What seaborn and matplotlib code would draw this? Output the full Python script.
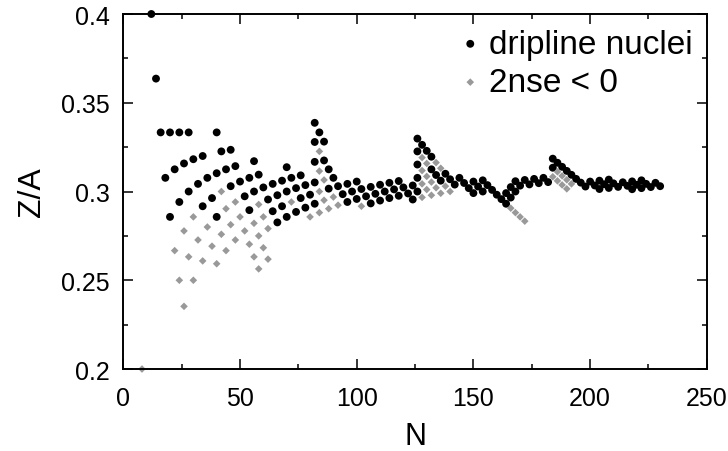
import pandas as pd
import matplotlib
matplotlib.use('Agg')
import matplotlib.pyplot as plt
import seaborn as sns
from matplotlib.ticker import MultipleLocator, FuncFormatter

# dripline nuclei (black dots): neutron number N and Z/A
black_n = [
    12, 14, 16, 18, 20,
    20, 22, 24,
    24, 26, 28,
    28, 30, 32, 34,
    34, 36, 38, 40,
    40,
    40, 42, 44, 46,
    46, 48, 50, 52, 54,
    54, 56,
    56, 58, 60, 62, 64, 66,
    64, 66, 68, 70,
    68, 70, 74,
    70, 72, 74, 76, 78,
    76, 78, 80, 82,
    82,
    82, 88,
    82, 86, 88, 90, 92, 94, 96,
    82, 84, 86, 96, 98, 100,
    100, 102, 104, 106,
    106, 108, 110,
    110, 112, 114,
    114, 116, 118,
    118, 120, 122, 124,
    124, 126,
    126, 126, 126,
    132, 134, 136,
    126, 128, 130, 132, 138, 140, 142,
    144, 146, 148, 150,
    150, 152, 154,
    154, 156, 158, 160, 162, 164,
    164, 166,
    166, 168,
    168, 170, 172, 174, 176, 178, 180, 182,
    184,
    184, 186, 188, 190, 192, 194, 196, 198,
    200, 202, 204, 204, 206, 208, 208, 210, 212, 214,
    216, 218, 218, 220, 222, 222, 224, 226, 228, 230,
]
black_za = [
    0.4000, 0.3636, 0.3333, 0.3077, 0.2857,
    0.3333, 0.3125, 0.2941,
    0.3333, 0.3158, 0.3000,
    0.3333, 0.3182, 0.3043, 0.2917,
    0.3200, 0.3077, 0.2963, 0.2857,
    0.3103,
    0.3333, 0.3226, 0.3125, 0.3030,
    0.3235, 0.3143, 0.3056, 0.2973, 0.2895,
    0.3077, 0.3000,
    0.3171, 0.3095, 0.3023, 0.2955, 0.2889, 0.2826,
    0.3043, 0.2979, 0.2917, 0.2857,
    0.3061, 0.3000, 0.2885,
    0.3137, 0.3077, 0.3019, 0.2963, 0.2909,
    0.3091, 0.3036, 0.2982, 0.2931,
    0.3051,
    0.3167, 0.3016,
    0.3279, 0.3175, 0.3125, 0.3077, 0.3030, 0.2985, 0.2941,
    0.3387, 0.3333, 0.3281, 0.3043, 0.3000, 0.2958,
    0.3056, 0.3014, 0.2973, 0.2933,
    0.3026, 0.2987, 0.2949,
    0.3038, 0.3000, 0.2963,
    0.3049, 0.3012, 0.2976,
    0.3059, 0.3023, 0.2989, 0.2955,
    0.3034, 0.3000,
    0.3077, 0.3152, 0.3226,
    0.3125, 0.3093, 0.3061,
    0.3298, 0.3263, 0.3229, 0.3196, 0.3100, 0.3069, 0.3039,
    0.3077, 0.3048, 0.3019, 0.2991,
    0.3056, 0.3028, 0.3000,
    0.3063, 0.3036, 0.3009, 0.2982, 0.2957, 0.2931,
    0.2991, 0.2966,
    0.3025, 0.3000,
    0.3058, 0.3033, 0.3065, 0.3040, 0.3071, 0.3047, 0.3077, 0.3053,
    0.3134,
    0.3185, 0.3162, 0.3139, 0.3116, 0.3094, 0.3071, 0.3050, 0.3028,
    0.3056, 0.3034, 0.3014, 0.3061, 0.3041, 0.3020, 0.3067, 0.3046, 0.3026, 0.3052,
    0.3032, 0.3013, 0.3057, 0.3038, 0.3019, 0.3063, 0.3043, 0.3025, 0.3049, 0.3030,
]

# nuclei with negative two-neutron separation energy (grey diamonds)
gray_n = [
    8,
    22, 24, 26,
    26, 28, 30,
    30, 32, 34,
    36, 38, 40,
    42, 44,
    42, 44, 46, 48,
    48, 50, 52, 54, 56, 58,
    56, 58, 60, 62,
    58, 60, 62,
    72, 80, 84,
    84, 86, 88,
    84, 86, 90, 92,
    84, 102,
    128,
    128, 130, 132,
    128, 130, 132, 134, 136,
    128, 130, 138, 140,
    134, 136,
    166, 168, 170, 172,
    184, 186, 188, 190,
    186, 188, 190, 192,
]
gray_za = [
    0.2000,
    0.2667, 0.2500, 0.2353,
    0.2778, 0.2632, 0.2500,
    0.2857, 0.2727, 0.2609,
    0.2800, 0.2692, 0.2593,
    0.2759, 0.2667,
    0.3000, 0.2903, 0.2813, 0.2727,
    0.2941, 0.2857, 0.2778, 0.2703, 0.2632, 0.2564,
    0.2821, 0.2750, 0.2683, 0.2619,
    0.2927, 0.2857, 0.2791,
    0.2941, 0.2857, 0.2881,
    0.3000, 0.2951, 0.2903,
    0.3115, 0.3065, 0.2969, 0.2923,
    0.3226, 0.2917,
    0.2967,
    0.3043, 0.3011, 0.2979,
    0.3118, 0.3085, 0.3053, 0.3021, 0.2990,
    0.3191, 0.3158, 0.3030, 0.3000,
    0.3163, 0.3131,
    0.2906, 0.2881, 0.2857, 0.2833,
    0.3083, 0.3060, 0.3037, 0.3015,
    0.3111, 0.3088, 0.3066, 0.3043,
]

sns.set_style('ticks')
plt.rcParams['font.family'] = ['Liberation Sans', 'DejaVu Sans']
plt.rcParams['text.color'] = 'black'
plt.rcParams['axes.labelcolor'] = 'black'
plt.rcParams['xtick.color'] = 'black'
plt.rcParams['ytick.color'] = 'black'

fig = plt.figure(figsize=(7.28, 4.52), dpi=100)
ax = fig.add_axes([0.1694, 0.1814, 0.8015, 0.7854])

sns.scatterplot(x=black_n, y=black_za, ax=ax, color='black', marker='o',
                s=32, edgecolor='none', linewidth=0, clip_on=False,
                label='dripline nuclei')
sns.scatterplot(x=gray_n, y=gray_za, ax=ax, color='#999999', marker='D',
                s=15, edgecolor='none', linewidth=0, clip_on=False,
                label='2nse < 0')

ax.set_xlim(0, 250)
ax.set_ylim(0.2, 0.4)
ax.xaxis.set_major_locator(MultipleLocator(50))
ax.xaxis.set_minor_locator(MultipleLocator(25))
ax.yaxis.set_major_locator(MultipleLocator(0.05))
ax.yaxis.set_minor_locator(MultipleLocator(0.025))
ax.yaxis.set_major_formatter(FuncFormatter(lambda v, p: '%g' % round(v, 3)))
ax.tick_params(which='both', direction='in', top=True, right=True, width=1.1)
ax.tick_params(which='major', length=7)
ax.tick_params(which='minor', length=3.6)
ax.tick_params(axis='x', labelsize=18, pad=12)
ax.tick_params(axis='y', labelsize=18, pad=10)
for sp in ax.spines.values():
    sp.set_linewidth(1.4)
    sp.set_color('black')

ax.set_xlabel('N', fontsize=22, labelpad=8)
ax.set_ylabel('Z/A', fontsize=23, labelpad=10)

ax.legend(loc='upper right', bbox_to_anchor=(0.975, 0.959), frameon=False,
          fontsize=24, handlelength=0.5, handletextpad=0.3, borderpad=0,
          borderaxespad=0, labelspacing=0.22)

fig.savefig('out.png', dpi=100)
